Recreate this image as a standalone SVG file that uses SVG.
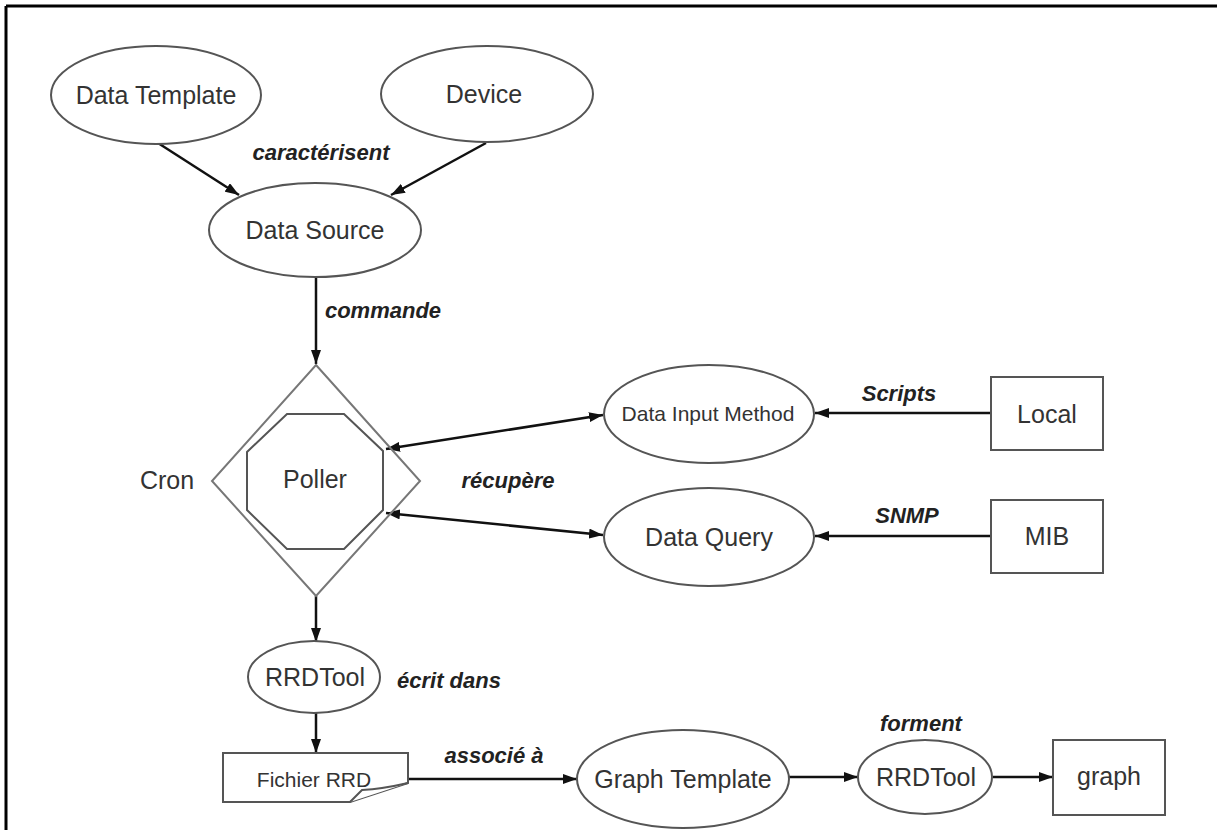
<svg xmlns="http://www.w3.org/2000/svg" width="1217" height="830" viewBox="0 0 1217 830">
<style>
.n{fill:#fff;stroke:#555;stroke-width:2}
.d{fill:none;stroke:#777;stroke-width:2}
.t{font-family:"Liberation Sans",Arial,sans-serif;font-size:25px;fill:#333;text-anchor:middle}
.s{font-size:21px}
.l{font-family:"Liberation Sans",Arial,sans-serif;font-size:22px;font-weight:bold;font-style:italic;fill:#222;text-anchor:middle}
.e{stroke:#111;stroke-width:2.5;fill:none}
</style>
<defs>
<marker id="ah" viewBox="0 0 14 10" refX="14" refY="5" markerWidth="14" markerHeight="10" markerUnits="userSpaceOnUse" orient="auto-start-reverse">
<path d="M0,0 L14,5 L0,10 z" fill="#111"/>
</marker>
</defs>
<rect width="1217" height="830" fill="#fff"/>
<g id="frame">
<line x1="6" y1="6" x2="1217" y2="6" stroke="#000" stroke-width="3"/>
<line x1="6" y1="6" x2="6" y2="830" stroke="#000" stroke-width="3"/>
</g>
<g id="connectors">
<line class="e" x1="158" y1="143" x2="239" y2="195" marker-end="url(#ah)"/>
<line class="e" x1="486" y1="143" x2="391" y2="195" marker-end="url(#ah)"/>
<line class="e" x1="316" y1="277" x2="316" y2="364" marker-end="url(#ah)"/>
<line class="e" x1="386" y1="449" x2="603" y2="415" marker-start="url(#ah)" marker-end="url(#ah)"/>
<line class="e" x1="386" y1="513" x2="603" y2="535" marker-start="url(#ah)" marker-end="url(#ah)"/>
<line class="e" x1="991" y1="413" x2="815" y2="413" marker-end="url(#ah)"/>
<line class="e" x1="991" y1="536" x2="815" y2="536" marker-end="url(#ah)"/>
<line class="e" x1="316" y1="596" x2="316" y2="642" marker-end="url(#ah)"/>
<line class="e" x1="316" y1="713" x2="316" y2="753" marker-end="url(#ah)"/>
<line class="e" x1="408" y1="779" x2="577" y2="779" marker-end="url(#ah)"/>
<line class="e" x1="788" y1="777" x2="858" y2="777" marker-end="url(#ah)"/>
<line class="e" x1="993" y1="777" x2="1053" y2="777" marker-end="url(#ah)"/>
<text class="l" x="321" y="160">caractérisent</text>
<text class="l" x="383" y="318">commande</text>
<text class="l" x="508" y="488">récupère</text>
<text class="l" x="899" y="401">Scripts</text>
<text class="l" x="907" y="523">SNMP</text>
<text class="l" x="449" y="688">écrit dans</text>
<text class="l" x="494" y="763">associé à</text>
<text class="l" x="921" y="731">forment</text>
</g>
<g id="data-template">
<ellipse class="n" cx="156" cy="95" rx="105" ry="49"/>
<text class="t" x="156" y="104">Data Template</text>
</g>
<g id="device">
<ellipse class="n" cx="487" cy="94" rx="106" ry="48"/>
<text class="t" x="484" y="103">Device</text>
</g>
<g id="data-source">
<ellipse class="n" cx="315" cy="230" rx="106" ry="47"/>
<text class="t" x="315" y="239">Data Source</text>
</g>
<g id="cron">
<polygon class="d" points="316,365 420,481 316,596 212,481"/>
<text class="t" x="167" y="489">Cron</text>
</g>
<g id="poller">
<polygon class="n" points="287,414 344,414 383,451 383,510 344,549 287,549 247,510 247,452"/>
<text class="t" x="315" y="488">Poller</text>
</g>
<g id="data-input-method">
<ellipse class="n" cx="709" cy="414" rx="105" ry="49"/>
<text class="t s" x="708" y="421">Data Input Method</text>
</g>
<g id="data-query">
<ellipse class="n" cx="709" cy="537" rx="105" ry="49"/>
<text class="t" x="709" y="546">Data Query</text>
</g>
<g id="local">
<rect class="n" x="991" y="377" width="112" height="73"/>
<text class="t" x="1047" y="423">Local</text>
</g>
<g id="mib">
<rect class="n" x="991" y="500" width="112" height="73"/>
<text class="t" x="1047" y="545">MIB</text>
</g>
<g id="rrdtool-1">
<ellipse class="n" cx="314" cy="677" rx="66" ry="36"/>
<text class="t" x="315" y="686">RRDTool</text>
</g>
<g id="fichier-rrd">
<path class="n" d="M223,753 H408 V783 L350,802 H223 Z"/>
<path class="n" d="M350,802 L362,790 Q382,789 408,783"/>
<text class="t s" x="314" y="787">Fichier RRD</text>
</g>
<g id="graph-template">
<ellipse class="n" cx="683" cy="779" rx="106" ry="49"/>
<text class="t" x="683" y="788">Graph Template</text>
</g>
<g id="rrdtool-2">
<ellipse class="n" cx="925" cy="777" rx="67" ry="37"/>
<text class="t" x="926" y="786">RRDTool</text>
</g>
<g id="graph">
<rect class="n" x="1053" y="740" width="112" height="75"/>
<text class="t" x="1109" y="785">graph</text>
</g>
</svg>
